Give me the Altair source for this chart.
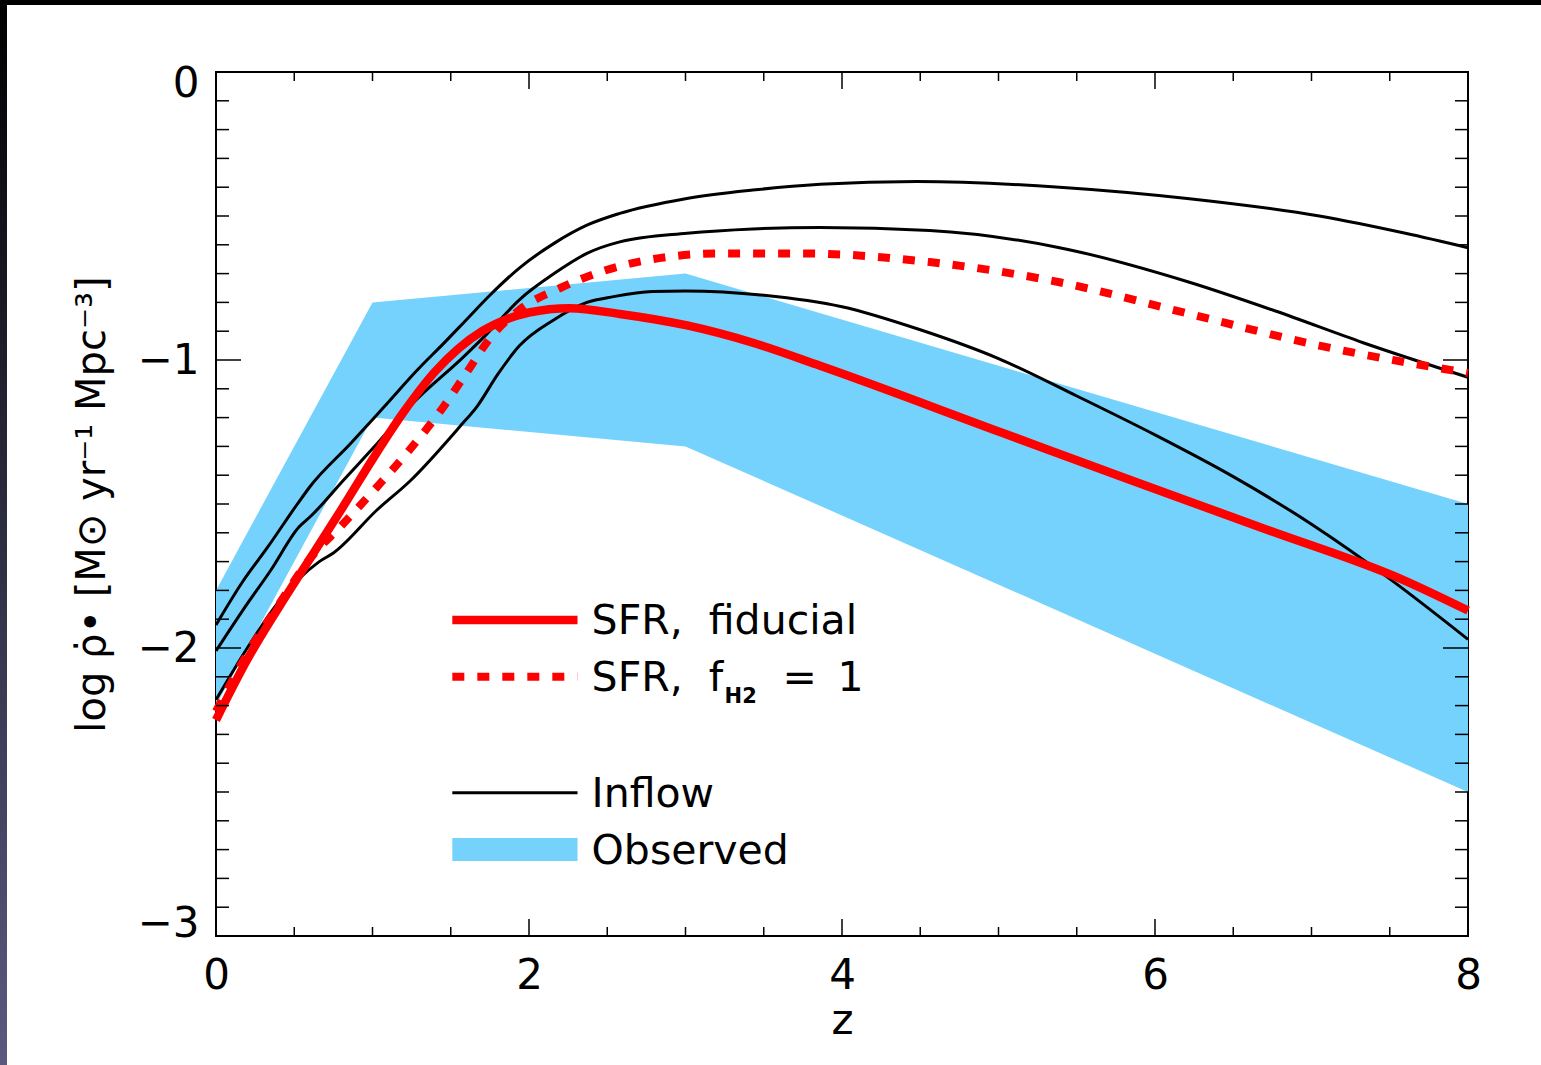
import altair as alt
import pandas as pd

# ---------------- data ----------------
band_z = [0, 1, 3, 8]
band_hi = [-1.80, -0.80, -0.70, -1.50]
band_lo = [-2.20, -1.20, -1.30, -2.50]

inflow_hi_z = [0, 0.17, 0.33, 0.52, 0.60, 0.86, 1.07, 1.30, 1.45, 1.60, 1.75, 1.94, 2.16, 2.37, 2.58, 3.00, 3.43, 3.86, 4.48, 5.39, 6.22, 7.05, 7.60, 8.0]
inflow_hi_y = [-1.92, -1.77, -1.65, -1.50, -1.44, -1.29, -1.165, -1.027, -0.945, -0.86, -0.775, -0.68, -0.595, -0.532, -0.491, -0.44, -0.41, -0.39, -0.38, -0.40, -0.44, -0.50, -0.56, -0.61]

inflow_mid_z = [0, 0.17, 0.35, 0.53, 0.61, 0.81, 1.03, 1.24, 1.58, 1.73, 1.94, 2.16, 2.37, 2.58, 3.01, 3.43, 3.86, 4.56, 5.39, 6.22, 6.77, 7.33, 8.0]
inflow_mid_y = [-2.01, -1.87, -1.73, -1.58, -1.54, -1.42, -1.29, -1.16, -0.99, -0.91, -0.79, -0.70, -0.63, -0.59, -0.56, -0.545, -0.54, -0.55, -0.61, -0.73, -0.83, -0.94, -1.06]

inflow_lo_z = [0, 0.20, 0.40, 0.66, 0.75, 1.03, 1.24, 1.56, 1.67, 1.80, 1.94, 2.16, 2.37, 2.54, 2.79, 3.00, 3.50, 4.00, 4.50, 5.00, 5.50, 6.00, 6.50, 7.00, 7.50, 8.0]
inflow_lo_y = [-2.18, -2.00, -1.84, -1.70, -1.67, -1.52, -1.42, -1.23, -1.16, -1.05, -0.95, -0.86, -0.80, -0.78, -0.762, -0.76, -0.775, -0.815, -0.895, -0.995, -1.125, -1.26, -1.405, -1.57, -1.76, -1.97]

sfr_fid_z = [0, 0.20, 0.40, 0.60, 0.80, 1.00, 1.20, 1.40, 1.55, 1.70, 1.85, 2.00, 2.26, 2.58, 3.01, 3.43, 3.86, 5.01, 5.86, 6.72, 7.57, 8.0]
sfr_fid_y = [-2.25, -2.04, -1.86, -1.69, -1.52, -1.345, -1.18, -1.04, -0.96, -0.90, -0.86, -0.835, -0.82, -0.84, -0.88, -0.94, -1.02, -1.25, -1.42, -1.59, -1.76, -1.87]

sfr_h2_z = [0, 0.20, 0.40, 0.60, 0.81, 1.03, 1.24, 1.45, 1.60, 1.75, 1.94, 2.20, 2.48, 2.79, 3.22, 3.75, 4.56, 5.39, 6.22, 7.05, 8.0]
sfr_h2_y = [-2.22, -2.02, -1.85, -1.69, -1.57, -1.44, -1.31, -1.165, -1.045, -0.925, -0.825, -0.75, -0.69, -0.65, -0.63, -0.63, -0.66, -0.73, -0.84, -0.95, -1.045]

x_major = [0, 2, 4, 6, 8]
x_minor = [0.5, 1, 1.5, 2.5, 3, 3.5, 4.5, 5, 5.5, 6.5, 7, 7.5]
y_major = [-3, -2, -1, 0]
y_minor = [round(-3 + k / 10, 1) for k in range(1, 30) if k % 10 != 0]

legend_names = ["SFR,\u00a0\u00a0fiducial", "SFR,\u00a0\u00a0f", "Inflow", "Observed"]
legend_y = [-1.903, -2.10, -2.503, -2.70]
legend_z1, legend_z2, legend_zt = 1.51, 2.31, 2.40

# ---------------- styling ----------------
W, H = 1252, 864
FONT = "DejaVu Sans"
RED = "#ff0000"
BLUE = "#74d2fd"

xs = alt.Scale(domain=[0, 8], nice=False, zero=False)
ys = alt.Scale(domain=[-3, 0], nice=False, zero=False)

x_axis = alt.Axis(
    values=x_major, format="d", ticks=False, tickSize=0, domain=False, grid=False,
    labelFont=FONT, labelFontSize=42, labelColor="black", labelPadding=19, labelFlush=False,
    title="z", titleFont=FONT, titleFontSize=42, titleFontWeight="normal", titleColor="black",
    titleBaseline="alphabetic", titleY=97)
y_axis = alt.Axis(
    values=y_major, format="d", ticks=False, tickSize=0, domain=False, grid=False,
    labelFont=FONT, labelFontSize=42, labelColor="black", labelPadding=17,
    labelFlush=True, labelFlushOffset=9,
    title="log ρ̇• [M⊙ yr⁻¹ Mpc⁻³]", titleFont=FONT, titleFontSize=40,
    titleFontWeight="normal", titleColor="black", titleAngle=270,
    titleBaseline="alphabetic", titleX=-112, titleY=432, titleAlign="center")


def X(field):
    return alt.X(field, scale=xs, axis=x_axis)


def Y(field):
    return alt.Y(field, scale=ys, axis=y_axis)


band_df = pd.DataFrame({"z": band_z, "hi": band_hi, "lo": band_lo})
inflow_df = pd.concat([
    pd.DataFrame({"z": inflow_hi_z, "y": inflow_hi_y, "s": "hi"}),
    pd.DataFrame({"z": inflow_mid_z, "y": inflow_mid_y, "s": "mid"}),
    pd.DataFrame({"z": inflow_lo_z, "y": inflow_lo_y, "s": "lo"}),
])
fid_df = pd.DataFrame({"z": sfr_fid_z, "y": sfr_fid_y})
h2_df = pd.DataFrame({"z": sfr_h2_z, "y": sfr_h2_y})

band = alt.Chart(band_df).mark_area(color=BLUE, opacity=1).encode(
    x=X("z:Q"), y=Y("hi:Q"), y2="lo:Q")
inflow = alt.Chart(inflow_df).mark_line(color="black", strokeWidth=3, interpolate="monotone").encode(
    x=X("z:Q"), y=Y("y:Q"), detail="s:N")
fid = alt.Chart(fid_df).mark_line(color=RED, strokeWidth=8.5, interpolate="monotone").encode(
    x=X("z:Q"), y=Y("y:Q"))
h2 = alt.Chart(h2_df).mark_line(color=RED, strokeWidth=8, strokeDash=[12, 13], strokeCap="butt",
                                interpolate="monotone").encode(
    x=X("z:Q"), y=Y("y:Q"))


# ---- inward ticks on all four sides ----
def yticks(vals, length, side):
    df = pd.DataFrame({"v": vals})
    if side == "left":
        xe = dict(x=alt.value(0), x2=alt.value(length))
    else:
        xe = dict(x=alt.value(W), x2=alt.value(W - length))
    return alt.Chart(df).mark_rule(color="black", strokeWidth=1.5).encode(y=Y("v:Q"), **xe)


def xticks(vals, length, side):
    df = pd.DataFrame({"v": vals})
    if side == "bottom":
        ye = dict(y=alt.value(H), y2=alt.value(H - length))
    else:
        ye = dict(y=alt.value(0), y2=alt.value(length))
    return alt.Chart(df).mark_rule(color="black", strokeWidth=1.5).encode(x=X("v:Q"), **ye)


ticks = [
    yticks(y_major, 25, "left"), yticks(y_minor, 13, "left"),
    yticks(y_major, 25, "right"), yticks(y_minor, 13, "right"),
    xticks(x_major, 17, "bottom"), xticks(x_minor, 9, "bottom"),
    xticks(x_major, 17, "top"), xticks(x_minor, 9, "top"),
]

# ---- legend ----
leg_df = pd.DataFrame({"name": legend_names, "y": legend_y,
                       "z1": legend_z1, "z2": legend_z2, "zt": legend_zt})


def leg_rule(i, **kw):
    return alt.Chart(leg_df.iloc[[i]]).mark_rule(**kw).encode(
        x=X("z1:Q"), x2="z2:Q", y=Y("y:Q"))


leg_lines = [
    leg_rule(0, color=RED, strokeWidth=8.5),
    leg_rule(1, color=RED, strokeWidth=8, strokeDash=[12, 13], strokeCap="butt"),
    leg_rule(2, color="black", strokeWidth=3),
    leg_rule(3, color=BLUE, strokeWidth=23, strokeCap="butt"),
]
leg_text = alt.Chart(leg_df).mark_text(align="left", baseline="middle", font=FONT,
                                       fontSize=41, color="black", dy=2).encode(
    x=X("zt:Q"), y=Y("y:Q"), text="name:N")
sub_df = leg_df.iloc[[1]]
leg_sub = alt.Chart(sub_df).mark_text(align="left", baseline="middle", font=FONT,
                                      fontSize=21, fontWeight="bold", color="black",
                                      dx=133, dy=20, text="H2").encode(
    x=X("zt:Q"), y=Y("y:Q"))
leg_eq = alt.Chart(sub_df).mark_text(align="left", baseline="middle", font=FONT,
                                     fontSize=41, color="black", dx=191, dy=2,
                                     text="=\u20021").encode(
    x=X("zt:Q"), y=Y("y:Q"))

# ---- page frame decoration (top black strip, left dark strip) ----
frame_df = pd.DataFrame({"k": [0]})
top_strip = alt.Chart(frame_df).mark_rect(color="black").encode(
    x=alt.value(-216), x2=alt.value(W + 73), y=alt.value(-72), y2=alt.value(-67))
left_strip = alt.Chart(frame_df).mark_rect(
    fill={"gradient": "linear", "x1": 0, "y1": 0, "x2": 0, "y2": 1,
          "stops": [{"offset": 0, "color": "#000000"}, {"offset": 1, "color": "#5a5a80"}]}
).encode(x=alt.value(-216), x2=alt.value(-209), y=alt.value(-72), y2=alt.value(H + 129))

chart = alt.layer(
    band, inflow, fid, h2, *ticks, *leg_lines, leg_text, leg_sub, leg_eq, top_strip, left_strip
).properties(
    width=W, height=H,
    padding={"left": 216, "top": 72, "right": 73, "bottom": 129},
    autosize=alt.AutoSizeParams(type="none"),
    background="white",
).configure_view(stroke="black", strokeWidth=2)

chart.save("out.html", embed_options={"renderer": "svg", "actions": False})
